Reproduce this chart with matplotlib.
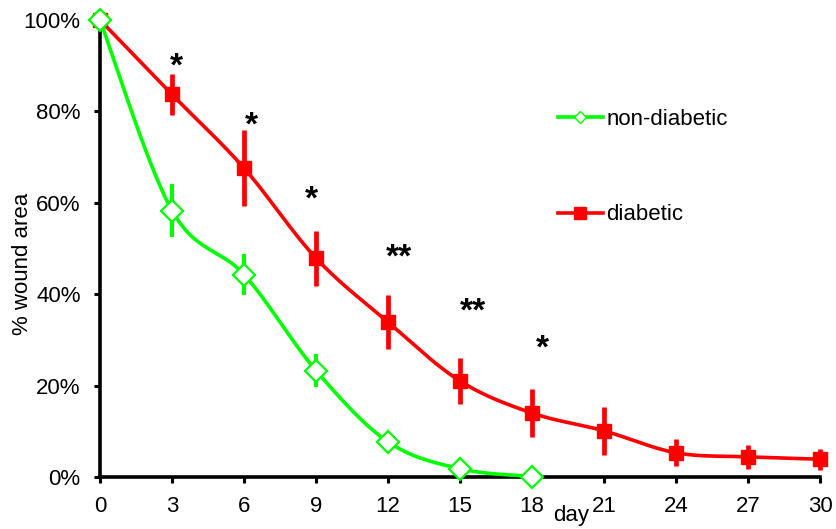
import numpy as np
import matplotlib
matplotlib.use("Agg")
import matplotlib.pyplot as plt
from matplotlib.lines import Line2D

plt.rcParams['font.family'] = ['Liberation Sans', 'DejaVu Sans']

days = [0, 3, 6, 9, 12, 15, 18, 21, 24, 27, 30]
nondiab_days = [0, 3, 6, 9, 12, 15, 18]
nondiab = [100, 58.3, 44.3, 23.3, 7.7, 1.8, 0.1]
nondiab_err = [0, 5.8, 4.5, 3.6, 0, 0, 0]
diab = [100, 83.7, 67.6, 47.9, 33.9, 21.0, 14.0, 10.1, 5.3, 4.4, 3.9]
diab_err = [0, 4.5, 8.3, 6.0, 6.0, 5.1, 5.2, 5.2, 3.0, 2.6, 2.3]
stars = ['*', '*', '*', '**', '**', '*']
star_x = [3.17, 6.33, 8.83, 12.46, 15.54, 18.42]
star_y = [89.8, 76.9, 60.5, 47.8, 36.2, 27.9]
yticks = [0, 20, 40, 60, 80, 100]
xticks = list(range(0, 31, 3))

GREEN = '#00FF00'
RED = '#FF0000'
FS = 16


def smooth(x, y, sx=24.0, sy=4.57, n=30):
    # Bezier smoothing (Catmull-Rom style) computed in pixel-like space
    X = np.asarray(x, float) * sx
    Y = np.asarray(y, float) * sy
    P = np.column_stack([X, Y])
    out = [P[0]]
    for i in range(len(P) - 1):
        p0 = P[i - 1] if i > 0 else P[i]
        p1 = P[i]
        p2 = P[i + 1]
        p3 = P[i + 2] if i + 2 < len(P) else P[i + 1]
        c1 = p1 + (p2 - p0) / 6.0
        c2 = p2 - (p3 - p1) / 6.0
        t = np.linspace(0, 1, n)[1:, None]
        seg = ((1 - t) ** 3) * p1 + 3 * ((1 - t) ** 2) * t * c1 + 3 * (1 - t) * t ** 2 * c2 + t ** 3 * p2
        out.extend(seg)
    out = np.array(out)
    return out[:, 0] / sx, out[:, 1] / sy


fig = plt.figure(figsize=(8.36, 5.29), dpi=100)
ax = fig.add_axes([100 / 836, 1 - 477 / 529, 720 / 836, 457 / 529])

# diabetic
sx, sy = smooth(days, diab)
ax.plot(sx, sy, color=RED, lw=2.6, clip_on=False, zorder=3)
ax.errorbar(days, diab, yerr=diab_err, fmt='none', ecolor=RED, elinewidth=3.4,
            capsize=0, clip_on=False, zorder=3)
ax.plot(days, diab, ls='none', marker='s', ms=9.5, mfc=RED, mec=RED, clip_on=False, zorder=4)

# non-diabetic
sx, sy = smooth(nondiab_days, nondiab)
sy = np.maximum(sy, 0)
ax.plot(sx, sy, color=GREEN, lw=2.6, clip_on=False, zorder=5)
ax.errorbar(nondiab_days, nondiab, yerr=nondiab_err, fmt='none', ecolor=GREEN,
            elinewidth=3.0, capsize=0, clip_on=False, zorder=5)
ax.plot(nondiab_days, nondiab, ls='none', marker='D', ms=11, mfc='white', mec=GREEN,
        mew=1.6, clip_on=False, zorder=6)

for sx_, sy_, s in zip(star_x, star_y, stars):
    ax.text(sx_, sy_, s, ha='center', va='center', fontsize=24, fontweight='bold',
            color='black')

ax.set_xlim(0, 30)
ax.set_ylim(0, 100)
ax.set_xticks(xticks)
ax.set_xticklabels([str(v) for v in xticks])
ax.set_yticks(yticks)
ax.set_yticklabels([f"{v}%" for v in yticks])
for side in ['top', 'right']:
    ax.spines[side].set_visible(False)
for side in ['left', 'bottom']:
    ax.spines[side].set_linewidth(2.6)
    ax.spines[side].set_color('black')
ax.tick_params(axis='both', direction='out', length=4, width=2.2, labelsize=FS, colors='black')
ax.tick_params(axis='y', pad=10)
ax.tick_params(axis='x', pad=10)
ax.set_ylabel('% wound area', fontsize=FS)
ax.yaxis.set_label_coords(-0.093, 0.466)
ax.text(0.655, -0.061, 'day', transform=ax.transAxes, fontsize=FS, ha='center', va='top')

handles = [
    Line2D([], [], color=GREEN, lw=2.6, marker='D', ms=6.5, mfc='white', mec=GREEN, mew=1.0),
    Line2D([], [], color=RED, lw=2.6, marker='s', ms=8, mfc=RED, mec=RED),
]
leg = ax.legend(handles, ['non-diabetic', 'diabetic'], loc='upper left',
                bbox_to_anchor=(0.624, 0.825), frameon=False, fontsize=FS,
                handlelength=2.0, handletextpad=0.18, labelspacing=3.35, borderaxespad=0)

fig.savefig('out.png', dpi=100)
